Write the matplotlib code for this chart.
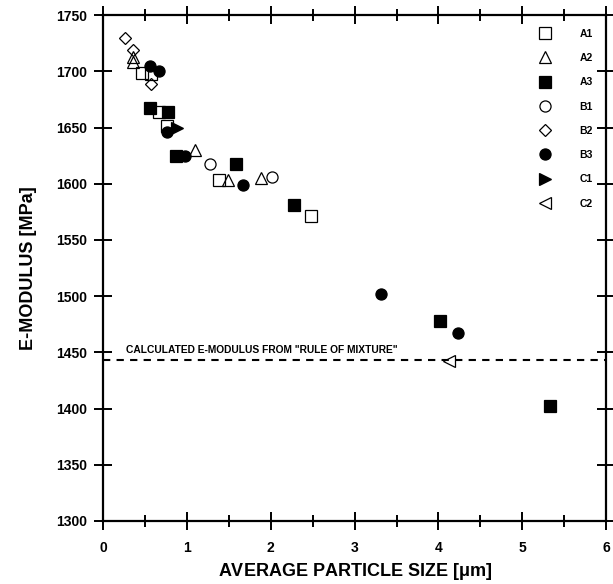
import matplotlib
matplotlib.use("Agg")
import matplotlib.pyplot as plt
from matplotlib.ticker import MultipleLocator

plt.rcParams['font.family'] = ['Liberation Sans', 'DejaVu Sans']
plt.rcParams['font.weight'] = 'bold'

# data: particle size [um], e-modulus [MPa]
a1_x = [0.46, 0.57, 0.67, 0.76, 1.38, 2.48]
a1_y = [1699, 1698, 1664, 1651, 1603, 1571]
a2_x = [0.36, 0.36, 1.10, 1.49, 1.88]
a2_y = [1713, 1708, 1630, 1603, 1605]
a3_x = [0.56, 0.77, 0.87, 1.59, 2.28, 4.02, 5.33]
a3_y = [1667, 1664, 1625, 1618, 1581, 1478, 1402]
b1_x = [1.27, 2.01]
b1_y = [1618, 1606]
b2_x = [0.26, 0.36, 0.57]
b2_y = [1730, 1719, 1689]
b3_x = [0.56, 0.67, 0.76, 0.98, 1.67, 3.31, 4.23]
b3_y = [1705, 1700, 1646, 1625, 1599, 1502, 1467]
c1_x = [0.88]
c1_y = [1650]
c2_x = [4.13]
c2_y = [1442]

rule_of_mixture = 1443

series = [
    ('A1', a1_x, a1_y, 's', 'none'),
    ('A2', a2_x, a2_y, '^', 'none'),
    ('A3', a3_x, a3_y, 's', 'black'),
    ('B1', b1_x, b1_y, 'o', 'none'),
    ('B2', b2_x, b2_y, 'D', 'none'),
    ('B3', b3_x, b3_y, 'o', 'black'),
    ('C1', c1_x, c1_y, '>', 'black'),
    ('C2', c2_x, c2_y, '<', 'none'),
]

fig = plt.figure(figsize=(6.13, 5.84), dpi=100)
ax = fig.add_axes([0.168, 0.108, 0.821, 0.866])

for name, xs, ys, mk, fc in series:
    ms = 6.5 if mk == 'D' else 8
    ax.plot(xs, ys, linestyle='none', marker=mk, markersize=ms,
            markerfacecolor=fc, markeredgecolor='black', markeredgewidth=0.9,
            label=name)

ax.axhline(rule_of_mixture, color='black', linestyle=(0, (3.5, 3)), linewidth=1.5)
ax.text(0.27, 1452, 'CALCULATED E-MODULUS FROM "RULE OF MIXTURE"',
        fontsize=7.4, fontweight='bold', va='center')

ax.set_xlim(0, 6)
ax.set_ylim(1300, 1750)
ax.xaxis.set_major_locator(MultipleLocator(1))
ax.xaxis.set_minor_locator(MultipleLocator(0.5))
ax.yaxis.set_major_locator(MultipleLocator(50))

ax.tick_params(axis='both', which='both', direction='inout', width=1.4,
               top=True, right=True, labelsize=10)
ax.tick_params(axis='x', which='major', length=13, pad=8)
ax.tick_params(axis='y', which='major', length=13, pad=5)
ax.tick_params(axis='x', which='minor', length=8)
for sp in ax.spines.values():
    sp.set_linewidth(1.6)
for lab in ax.get_xticklabels() + ax.get_yticklabels():
    lab.set_fontweight('bold')

ax.set_xlabel(r'AVERAGE PARTICLE SIZE [$\mathregular{\mu}$m]', fontsize=13,
              fontweight='bold', labelpad=4)
ax.set_ylabel('E-MODULUS [MPa]', fontsize=13, fontweight='bold', labelpad=14)

leg = ax.legend(loc='upper right', frameon=False, fontsize=7.5,
                markerfirst=True, handletextpad=2.8, labelspacing=1.37,
                borderaxespad=0.9, handlelength=1.0)
for t in leg.get_texts():
    t.set_fontweight('bold')

fig.savefig('out.png', dpi=100)
